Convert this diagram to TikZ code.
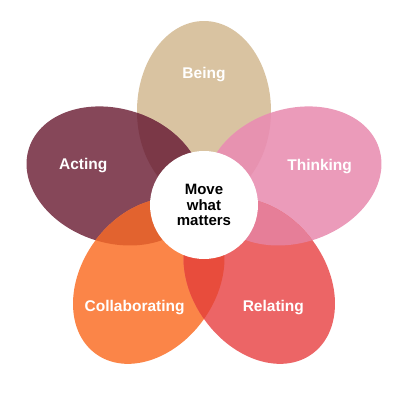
\documentclass[tikz,border=0pt]{standalone}
\usepackage{fontspec}
\setmainfont{Liberation Sans}

\definecolor{beingcol}{HTML}{D9C3A1}
\definecolor{actingcol}{HTML}{864759}
\definecolor{thinkingcol}{HTML}{EB9BBA}
\definecolor{collabcol}{HTML}{FB8548}
\definecolor{relatingcol}{HTML}{EC6566}
\definecolor{beingacting}{HTML}{7B3847}
\definecolor{beingthinking}{HTML}{E792B0}
\definecolor{actingcollab}{HTML}{E2632F}
\definecolor{collabrelating}{HTML}{E84C3C}
\definecolor{relatingthinking}{HTML}{E67E98}

\tikzset{
    petallabel/.style={text=white, font=\bfseries\fontsize{15.5}{17}\selectfont},
    hub/.style={circle, fill=white, minimum size=108pt, inner sep=0pt, align=center,
        font=\bfseries\fontsize{15}{15.5}\selectfont}
}

\begin{document}
\begin{tikzpicture}[x=1pt,y=1pt]
    \useasboundingbox (-204,-195) rectangle (196,205);
    \def\petal{(94,0) ellipse (90 and 67)}

    % the five petals
    \fill[beingcol, rotate=90] \petal;
    \fill[actingcol, rotate=162] \petal;
    \fill[thinkingcol, rotate=18] \petal;
    \fill[collabcol, rotate=234] \petal;
    \fill[relatingcol, rotate=306] \petal;

    % where two petals overlap
    \begin{scope}
        \clip[rotate=90] \petal;
        \fill[beingacting, rotate=162] \petal;
    \end{scope}
    \begin{scope}
        \clip[rotate=90] \petal;
        \fill[beingthinking, rotate=18] \petal;
    \end{scope}
    \begin{scope}
        \clip[rotate=162] \petal;
        \fill[actingcollab, rotate=234] \petal;
    \end{scope}
    \begin{scope}
        \clip[rotate=234] \petal;
        \fill[collabrelating, rotate=306] \petal;
    \end{scope}
    \begin{scope}
        \clip[rotate=306] \petal;
        \fill[relatingthinking, rotate=18] \petal;
    \end{scope}

    \node[hub] (centre) at (0,0) {Move\\what\\matters};

    \node[petallabel] (being) at (90:130) {Being};
    \node[petallabel] (acting) at (162:127) {Acting};
    \node[petallabel] (thinking) at (18.6:122) {Thinking};
    \node[petallabel] (collab) at (236:124) {Collaborating};
    \node[petallabel] (relating) at (304:124) {Relating};
\end{tikzpicture}
\end{document}
